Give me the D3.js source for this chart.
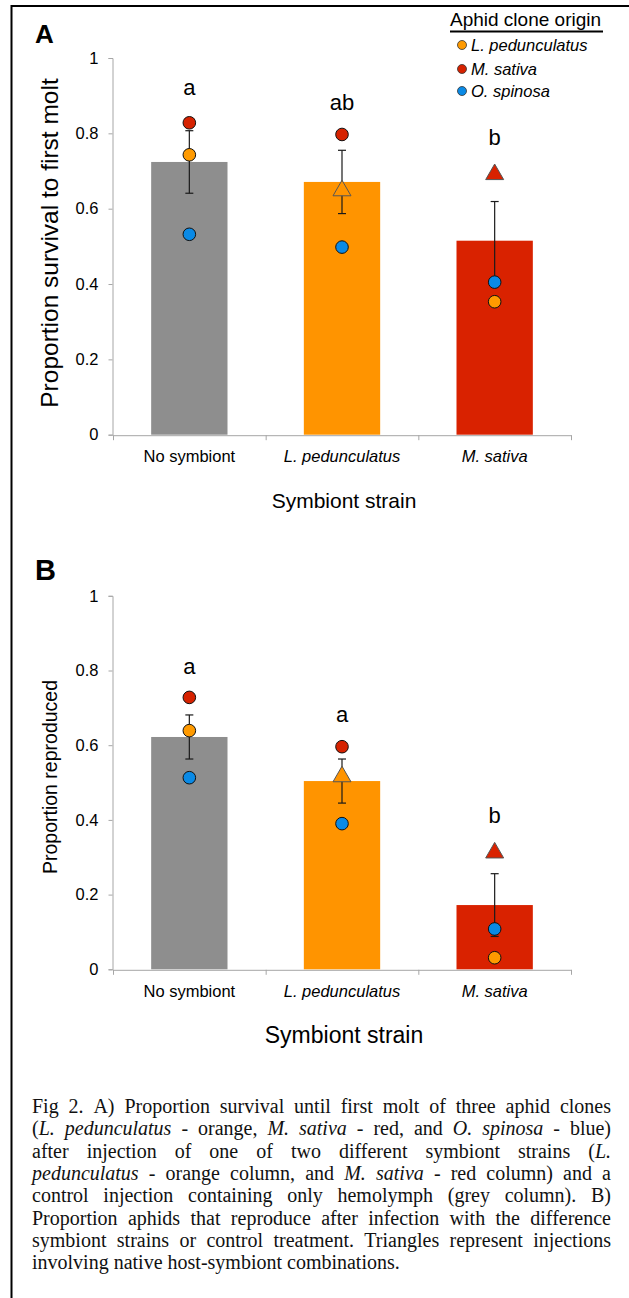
<!DOCTYPE html>
<html>
<head>
<meta charset="utf-8">
<script src="https://cdn.jsdelivr.net/npm/d3@7"></script>
<style>
  body { margin: 0; background: #fff; }
  svg { display: block; }
</style>
</head>
<body>
<script>
const width = 629
const height = 1298

const categories = ['No symbiont', 'L. pedunculatus', 'M. sativa']
const italicCats = [false, true, true]
const cloneOrigins = ['L. pedunculatus', 'M. sativa', 'O. spinosa']
const yTicks = [0, 0.2, 0.4, 0.6, 0.8, 1]

// panel A : survival to first molt
const survivalMean = [0.724, 0.671, 0.515]
const survivalSE = [0.083, 0.084, 0.104]
const survivalLped = [0.743, 0.648, 0.353]
const survivalMsat = [0.828, 0.797, 0.691]
const survivalOspi = [0.532, 0.498, 0.405]
const survivalLetters = ['a', 'ab', 'b']
const survivalLetterY = [0.921, 0.881, 0.79]

// panel B : reproduced
const reproMean = [0.622, 0.504, 0.172]
const reproSE = [0.059, 0.059, 0.084]
const reproLped = [0.639, 0.516, 0.031]
const reproMsat = [0.728, 0.596, 0.312]
const reproOspi = [0.513, 0.390, 0.108]
const reproLetters = ['a', 'a', 'b']
const reproLetterY = [0.81, 0.681, 0.411]

const barColors = ['#8e8e8e', '#ff9400', '#d92200']
const cloneColors = ['#ff9a00', '#d62200', '#0a8ae6']

const caption = [
  'Fig 2. A) Proportion survival until first molt of three aphid clones',
  '(*L. pedunculatus* - orange, *M. sativa* - red, and *O. spinosa* - blue)',
  'after injection of one of two different symbiont strains (*L.*',
  '*pedunculatus* - orange column, and *M. sativa* - red column) and a',
  'control injection containing only hemolymph (grey column). B)',
  'Proportion aphids that reproduce after infection with the difference',
  'symbiont strains or control treatment. Triangles represent injections',
  'involving native host-symbiont combinations.'
]

const SANS = '"Liberation Sans", Arial, sans-serif'
const SERIF = '"Liberation Serif", "Times New Roman", serif'

const svg = d3.select('body').append('svg')
  .attr('width', width)
  .attr('height', height)

// cadre (gauche + haut seulement)
svg.append('path')
  .attr('d', `M11.5,${height} V6 H${width}`)
  .attr('fill', 'none')
  .attr('stroke', '#000')
  .attr('stroke-width', 2)

const x = d3.scaleBand()
  .domain(categories)
  .range([113, 571])
  .paddingInner(0.5)
  .paddingOuter(0.25)

function drawPanel(p) {
  const y = d3.scaleLinear().domain([0, 1]).range([p.bottom, p.top])
  const g = svg.append('g').attr('font-family', SANS)

  // lettre du panneau
  g.append('text')
    .attr('x', 35).attr('y', p.labelY)
    .attr('font-size', p.labelSize)
    .attr('font-weight', 'bold')
    .text(p.label)

  // axe y
  const yAxis = g.append('g')
    .attr('transform', 'translate(112.5,0)')
    .call(d3.axisLeft(y).tickValues(yTicks).tickSize(4).tickPadding(10).tickFormat(d3.format('')))
  yAxis.selectAll('path, line').attr('stroke', '#a6a6a6')
  yAxis.selectAll('text').attr('font-size', 16.5).attr('fill', '#000').attr('font-family', SANS)

  // axe x (graduations entre les catégories)
  const bounds = d3.scaleLinear().domain([0, categories.length]).range(x.range())
  const xAxis = g.append('g')
    .attr('transform', `translate(0,${p.bottom + 0.5})`)
    .call(d3.axisBottom(bounds).tickValues(d3.range(categories.length + 1)).tickSize(5).tickSizeOuter(0).tickFormat(''))
  xAxis.selectAll('path, line').attr('stroke', '#a6a6a6')

  g.selectAll('.cat')
    .data(categories)
    .enter()
    .append('text')
    .attr('class', 'cat')
    .attr('x', d => x(d) + x.bandwidth() / 2)
    .attr('y', p.catY)
    .attr('text-anchor', 'middle')
    .attr('font-size', 16.5)
    .attr('font-style', (d, i) => italicCats[i] ? 'italic' : 'normal')
    .text(d => d)

  g.append('text')
    .attr('x', 344).attr('y', p.xTitleY)
    .attr('text-anchor', 'middle')
    .attr('font-size', p.xTitleSize)
    .text('Symbiont strain')

  g.append('text')
    .attr('transform', `translate(${p.yTitleX},${p.yTitleY}) rotate(-90)`)
    .attr('text-anchor', 'middle')
    .attr('font-size', p.yTitleSize)
    .text(p.yTitle)

  // barres
  g.selectAll('.bar')
    .data(categories)
    .enter()
    .append('rect')
    .attr('class', 'bar')
    .attr('x', d => x(d))
    .attr('width', x.bandwidth())
    .attr('y', (d, i) => y(p.mean[i]))
    .attr('height', (d, i) => y(0) - y(p.mean[i]))
    .attr('fill', (d, i) => barColors[i])

  // barres d'erreur
  const err = g.selectAll('.err')
    .data(categories)
    .enter()
    .append('g')
    .attr('class', 'err')
    .attr('stroke', '#1a1a1a')
    .attr('stroke-width', 1.2)
  const cx = d => x(d) + x.bandwidth() / 2
  err.append('line')
    .attr('x1', cx).attr('x2', cx)
    .attr('y1', (d, i) => y(p.mean[i] - p.se[i]))
    .attr('y2', (d, i) => y(p.mean[i] + p.se[i]))
  err.append('line')
    .attr('x1', d => cx(d) - 4).attr('x2', d => cx(d) + 4)
    .attr('y1', (d, i) => y(p.mean[i] + p.se[i]))
    .attr('y2', (d, i) => y(p.mean[i] + p.se[i]))
  err.append('line')
    .attr('x1', d => cx(d) - 4).attr('x2', d => cx(d) + 4)
    .attr('y1', (d, i) => y(p.mean[i] - p.se[i]))
    .attr('y2', (d, i) => y(p.mean[i] - p.se[i]))

  // points des clones : triangle si combinaison native
  const pts = []
  p.clones.forEach((vals, k) => {
    vals.forEach((v, i) => pts.push({ k, i, v, native: cloneOrigins[k] === categories[i] }))
  })
  g.selectAll('.pt')
    .data(pts.filter(d => !d.native))
    .enter()
    .append('circle')
    .attr('cx', d => cx(categories[d.i]))
    .attr('cy', d => y(d.v))
    .attr('r', 6.3)
    .attr('fill', d => cloneColors[d.k])
    .attr('stroke', '#111')
    .attr('stroke-width', 1)
  g.selectAll('.tri')
    .data(pts.filter(d => d.native))
    .enter()
    .append('path')
    .attr('d', d3.symbol(d3.symbolTriangle).size(140))
    .attr('transform', d => `translate(${cx(categories[d.i])},${y(d.v)})`)
    .attr('fill', d => barColors[d.i])
    .attr('stroke', '#555')
    .attr('stroke-width', 1)

  // lettres de significativité
  g.selectAll('.sig')
    .data(p.letters)
    .enter()
    .append('text')
    .attr('x', (d, i) => cx(categories[i]))
    .attr('y', (d, i) => y(p.letterY[i]) + 7.5)
    .attr('text-anchor', 'middle')
    .attr('font-size', 22)
    .text(d => d)
}

drawPanel({
  top: 58, bottom: 434.7, label: 'A', labelSize: 26, labelY: 43,
  yTitle: 'Proportion survival to first molt', yTitleX: 58, yTitleY: 243, yTitleSize: 24.5,
  catY: 462, xTitleY: 508, xTitleSize: 21,
  mean: survivalMean, se: survivalSE,
  clones: [survivalLped, survivalMsat, survivalOspi],
  letters: survivalLetters, letterY: survivalLetterY
})

drawPanel({
  top: 595.8, bottom: 969.3, label: 'B', labelSize: 29, labelY: 580,
  yTitle: 'Proportion reproduced', yTitleX: 57, yTitleY: 777, yTitleSize: 19.5,
  catY: 997, xTitleY: 1043, xTitleSize: 23,
  mean: reproMean, se: reproSE,
  clones: [reproLped, reproMsat, reproOspi],
  letters: reproLetters, letterY: reproLetterY
})

// légende
const legend = svg.append('g').attr('font-family', SANS)
legend.append('text')
  .attr('x', 450).attr('y', 26)
  .attr('font-size', 19)
  .text('Aphid clone origin')
legend.append('line')
  .attr('x1', 450).attr('x2', 603)
  .attr('y1', 31.5).attr('y2', 31.5)
  .attr('stroke', '#000').attr('stroke-width', 2)
const items = legend.selectAll('.item')
  .data(cloneOrigins)
  .enter()
  .append('g')
  .attr('transform', (d, i) => `translate(462,${[45, 69, 91][i]})`)
items.append('circle')
  .attr('r', 4.5)
  .attr('fill', (d, i) => cloneColors[i])
  .attr('stroke', '#333')
  .attr('stroke-width', 0.8)
items.append('text')
  .attr('x', 9).attr('y', 6)
  .attr('font-size', 16.5)
  .attr('font-style', 'italic')
  .text(d => d)

// légende de la figure, justifiée mot par mot
const capLeft = 32, capRight = 611, capTop = 1113, capLine = 22.3
const capG = svg.append('g')
  .attr('font-family', SERIF)
  .attr('font-size', 20)
  .attr('fill', '#111')

caption.forEach((line, li) => {
  const text = capG.append('text').attr('y', capTop + li * capLine)
  let italic = false
  const words = line.split(' ').map(w => {
    const parts = w.split('*')
    const segs = []
    parts.forEach((s, j) => {
      if (j > 0) italic = !italic
      if (s) segs.push({ s, italic })
    })
    return segs.map(seg => text.append('tspan')
      .attr('font-style', seg.italic ? 'italic' : 'normal')
      .text(seg.s))
  })
  const widths = words.map(ts => d3.sum(ts, t => t.node().getComputedTextLength()))
  const last = li === caption.length - 1
  const gap = last ? 5 : Math.max(2.5, (capRight - capLeft - d3.sum(widths)) / (words.length - 1))
  let pos = capLeft
  words.forEach((ts, i) => {
    ts[0].attr('x', pos)
    pos += widths[i] + gap
  })
})
</script>
</body>
</html>
